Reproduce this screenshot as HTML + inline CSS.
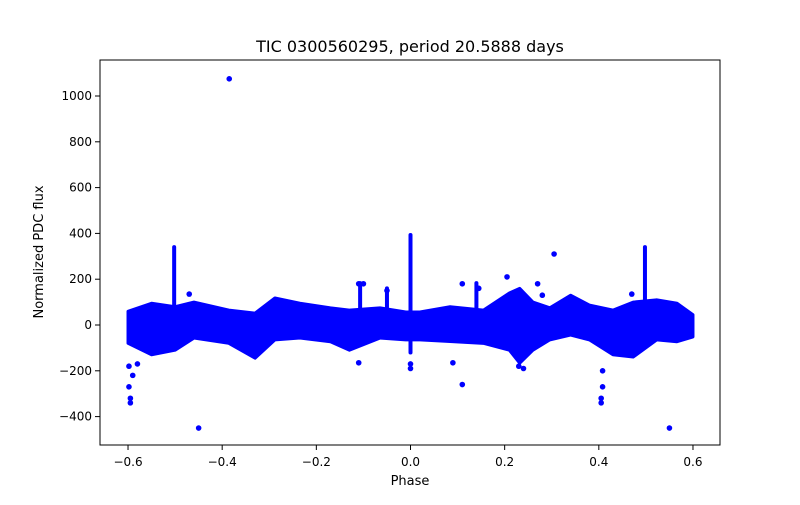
<!DOCTYPE html>
<html><head><meta charset="utf-8">
<style>
body{margin:0;background:#fff;font-family:"Liberation Sans","DejaVu Sans",sans-serif;}
svg text{font-family:"DejaVu Sans","Liberation Sans",sans-serif;}
</style></head>
<body>
<svg id="chart" width="800" height="500">
<rect width="800" height="500" fill="#fff"/>
<text x="410" y="52" text-anchor="middle" font-size="16">TIC 0300560295, period 20.5888 days</text>
<g id="marks"></g>
<rect x="100" y="60" width="620" height="385" fill="none" stroke="#000" stroke-width="1"/>
<g id="xticks"></g>
<g id="yticks"></g>
<text x="410" y="485" text-anchor="middle" font-size="13">Phase</text>
<text transform="translate(43,252) rotate(-90)" text-anchor="middle" font-size="13">Normalized PDC flux</text>
</svg>
<script>
const envPhase=[-0.6,-0.55,-0.5,-0.46,-0.386,-0.33,-0.288,-0.235,-0.17,-0.13,-0.065,-0.01,0.02,0.084,0.155,0.21,0.232,0.26,0.296,0.34,0.38,0.43,0.473,0.523,0.566,0.6];
const envUpper=[60,95,80,100,65,52,118,95,75,65,75,57,57,80,65,140,160,100,75,130,87,65,100,110,95,45];
const envLower=[-80,-130,-110,-57,-80,-145,-65,-57,-73,-110,-57,-65,-65,-72,-80,-110,-167,-110,-65,-44,-65,-130,-140,-65,-73,-52];
const spikePhase=[-0.502,0,0.498,0.14,-0.107,-0.05];
const spikeTop=[340,393,340,183,183,160];
const spikeBottom=[60,-120,60,40,30,50];
const outPhase=[-0.385,-0.45,0.55,0.305,-0.595,-0.595,-0.598,-0.598,0.405,0.405,0.408,0.408,0.11,0.11,0.145,-0.11,-0.1,-0.05,0.205,0.27,0.28,-0.47,0.47,-0.11,0.09,0,0,-0.59,-0.58,0.23,0.24];
const outFlux=[1075,-450,-450,310,-340,-320,-270,-180,-340,-320,-270,-200,-260,180,160,180,180,150,210,180,130,135,135,-165,-165,-190,-170,-220,-170,-180,-190];
const xTicks=[-0.6,-0.4,-0.2,0,0.2,0.4,0.6];
const xTickLabels=["−0.6","−0.4","−0.2","0.0","0.2","0.4","0.6"];
const yTicks=[-400,-200,0,200,400,600,800,1000];
const yTickLabels=["−400","−200","0","200","400","600","800","1000"];

const X=p=>410.5+p*470.8;
const Y=v=>325-v*0.229;
const NS="http://www.w3.org/2000/svg";
const marks=document.getElementById('marks');
function mk(t,a,parent){const e=document.createElementNS(NS,t);for(const k in a)e.setAttribute(k,a[k]);parent.appendChild(e);return e;}

let pts=envPhase.map((p,i)=>X(p)+","+Y(envUpper[i]));
for(let i=envPhase.length-1;i>=0;i--)pts.push(X(envPhase[i])+","+Y(envLower[i]));
const band=mk('polygon',{points:pts.join(' '),fill:'#0000ff',stroke:'#0000ff','stroke-width':3,'stroke-linejoin':'round'},marks);



spikePhase.forEach((p,i)=>{
 const l=mk('line',{x1:X(p),x2:X(p),y1:Y(spikeTop[i]),y2:Y(spikeBottom[i]),stroke:'#0000ff','stroke-width':4,'stroke-linecap':'round'},marks);
 
 
});
outPhase.forEach((p,i)=>{
 const c=mk('circle',{cx:X(p),cy:Y(outFlux[i]),r:2.8,fill:'#0000ff'},marks);
 
 
});
const xg=document.getElementById('xticks');
xTicks.forEach((t,i)=>{
 const l=mk('line',{x1:X(t),x2:X(t),y1:445,y2:450,stroke:'#000'},xg);
 
 
 const tx=mk('text',{x:X(t),y:466,'text-anchor':'middle','font-size':12},xg);
 tx.textContent=xTickLabels[i];
 
 
});
const yg=document.getElementById('yticks');
yTicks.forEach((t,i)=>{
 const l=mk('line',{x1:95,x2:100,y1:Y(t),y2:Y(t),stroke:'#000'},yg);
 
 
 const tx=mk('text',{x:92,y:Y(t)+4,'text-anchor':'end','font-size':12},yg);
 tx.textContent=yTickLabels[i];
 
 
});
</script>
</body></html>
